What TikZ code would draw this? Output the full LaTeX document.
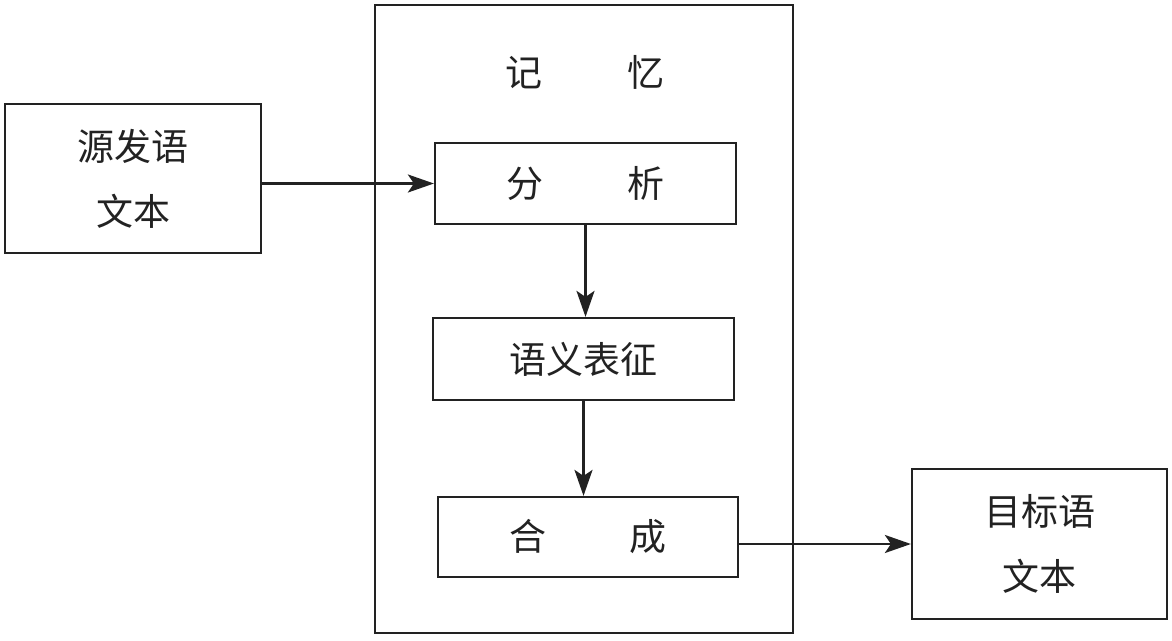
\documentclass[tikz,border=0pt]{standalone}
\usepackage{fontspec}
\setmainfont{Noto Sans CJK SC}
\usetikzlibrary{arrows.meta,calc}
\definecolor{ink}{HTML}{222222}
\begin{document}
\begin{tikzpicture}[x=1pt,y=-1pt,
  box/.style={draw=ink,line width=2.2pt,inner sep=0pt,align=center,text=ink,
    font=\fontsize{37}{65}\selectfont},
  lbl/.style={inner sep=0pt,text=ink,font=\fontsize{37}{65}\selectfont},
  conn/.style={draw=ink,line width=2.4pt,-{Stealth[length=26pt,width=18pt,inset=6pt]}}]
\useasboundingbox (0,0) rectangle (1172,640);
\node[box,minimum width=256pt,minimum height=149pt] (src) at (133,178.5) {源发语\\文本};
\node[box,minimum width=418pt,minimum height=628pt] (mem) at (584,319) {};
\node[lbl] (title) at (585,72) {记\hspace{86pt}忆};
\node[box,minimum width=301pt,minimum height=81pt] (fx) at (585.5,183.5) {分\hspace{84pt}析};
\node[box,minimum width=301pt,minimum height=82pt] (yy) at (583.5,359) {语义表征};
\node[box,minimum width=300pt,minimum height=80pt] (hc) at (588,537) {合\hspace{84pt}成};
\node[box,minimum width=255pt,minimum height=150pt] (tgt) at (1039.5,544) {目标语\\文本};
\draw[conn] (src.east |- fx.west) -- (fx.west);
\draw[conn] (fx.south) -- (fx.south |- yy.north);
\draw[conn] (yy.south) -- (yy.south |- hc.north);
\draw[conn] (tgt.west -| hc.east) -- (tgt.west);
\end{tikzpicture}
\end{document}
